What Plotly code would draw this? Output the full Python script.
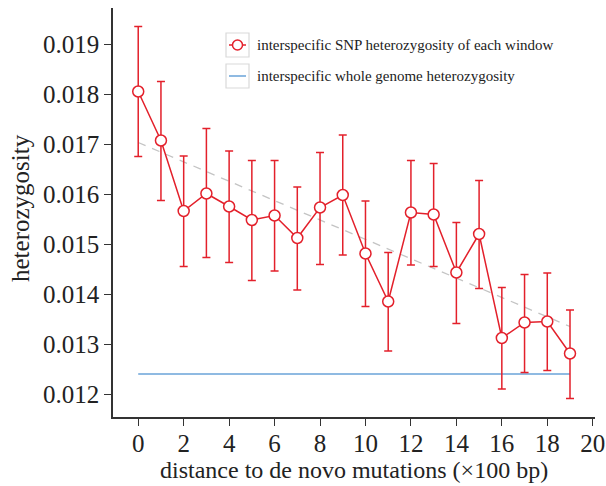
import plotly.graph_objects as go

distance = list(range(20))
het = [0.01805, 0.01707, 0.01566, 0.01601, 0.01575, 0.01548, 0.01557, 0.01512,
       0.01573, 0.01598, 0.01481, 0.01385, 0.01563, 0.01559, 0.01443, 0.01520,
       0.01312, 0.01343, 0.01345, 0.01281]
err_hi = [0.01935, 0.01825, 0.01676, 0.01731, 0.01686, 0.01667, 0.01667, 0.01614,
          0.01683, 0.01718, 0.01586, 0.01483, 0.01667, 0.01661, 0.01543, 0.01627,
          0.01413, 0.01439, 0.01442, 0.01368]
err_lo = [0.01675, 0.01587, 0.01455, 0.01473, 0.01463, 0.01427, 0.01446, 0.01408,
          0.01459, 0.01478, 0.01375, 0.01286, 0.01458, 0.01455, 0.01341, 0.01411,
          0.01210, 0.01243, 0.01247, 0.01191]
genome_x = [0, 19]
genome_het = [0.0124, 0.0124]
trend_x = [0, 19]
trend_y = [0.01703, 0.01335]

legend_labels = ["interspecific SNP heterozygosity of each window",
                 "interspecific whole genome heterozygosity"]
x_title = "distance to de novo mutations (×100 bp)"
y_title = "heterozygosity"

RED = "#e3202b"
BLUE = "#6aa3d8"
FONT = "Liberation Serif, Times New Roman, serif"
TXT = "#222"

W, H = 606, 486
# plot area in pixels: x 113..595, y 8..417
PL, PR, PT, PB = 113, 595, 8, 417
L, R, T, B = PL, W - PR, PT, H - PB
PW, PH = W - L - R, H - T - B


def px(x):
    return (x - PL) / PW


def py(y):
    return (PB - y) / PH


fig = go.Figure()
fig.add_trace(go.Scatter(x=trend_x, y=trend_y, mode="lines",
                         line=dict(color="#c4c4c4", width=1.3, dash="8px,7px"),
                         hoverinfo="skip"))
fig.add_trace(go.Scatter(x=genome_x, y=genome_het, mode="lines",
                         line=dict(color=BLUE, width=1.5), name=legend_labels[1]))
fig.add_trace(go.Scatter(
    x=distance, y=het, mode="lines+markers", name=legend_labels[0],
    line=dict(color=RED, width=1.5),
    marker=dict(symbol="circle", size=11, color="white", line=dict(color=RED, width=1.5)),
    error_y=dict(type="data", symmetric=False,
                 array=[h - v for h, v in zip(err_hi, het)],
                 arrayminus=[v - l for l, v in zip(err_lo, het)],
                 color=RED, thickness=1.5, width=4)))

# manual legend
shapes = []
annotations = []
rows = [(33, 57), (64, 88)]
for i, (y0, y1) in enumerate(rows):
    shapes.append(dict(type="rect", xref="paper", yref="paper",
                       x0=px(226), x1=px(249), y0=py(y1), y1=py(y0),
                       line=dict(color="#d9d9d9", width=1.2), fillcolor="rgba(0,0,0,0)"))
    cy = (y0 + y1) / 2
    shapes.append(dict(type="line", xref="paper", yref="paper",
                       x0=px(229), x1=px(246), y0=py(cy), y1=py(cy),
                       line=dict(color=RED if i == 0 else BLUE, width=1.5)))
    if i == 0:
        r = 5
        cx = 237.5
        shapes.append(dict(type="circle", xref="paper", yref="paper",
                           x0=px(cx - r), x1=px(cx + r), y0=py(cy + r), y1=py(cy - r),
                           line=dict(color=RED, width=1.5), fillcolor="white"))
    annotations.append(dict(xref="paper", yref="paper", x=px(255), y=py(cy),
                            xanchor="left", yanchor="middle", showarrow=False,
                            text=legend_labels[i], font=dict(size=15, color=TXT, family=FONT)))

annotations.append(dict(xref="paper", yref="paper", x=px(354), y=py(470),
                        xanchor="center", yanchor="middle", showarrow=False,
                        text=x_title, font=dict(size=24, color=TXT, family=FONT)))
annotations.append(dict(xref="paper", yref="paper", x=px(20), y=py(208),
                        xanchor="center", yanchor="middle", showarrow=False, textangle=-90,
                        text=y_title, font=dict(size=25, color=TXT, family=FONT)))

fig.update_layout(
    width=W, height=H,
    margin=dict(l=L, r=R, t=T, b=B, pad=0),
    paper_bgcolor="white", plot_bgcolor="white",
    showlegend=False,
    font=dict(family=FONT, color=TXT),
    shapes=shapes, annotations=annotations,
    xaxis=dict(range=[-1.11, 20.1], tickvals=list(range(0, 21, 2)), automargin=False,
               showgrid=False, zeroline=False, showline=True, linecolor="#333", linewidth=1.5,
               ticks="outside", ticklen=7, tickwidth=1.3, tickcolor="#333",
               ticklabelstandoff=-4,
               tickfont=dict(size=25, family=FONT, color=TXT)),
    yaxis=dict(range=[0.01154, 0.01972], automargin=False,
               tickvals=[0.012, 0.013, 0.014, 0.015, 0.016, 0.017, 0.018, 0.019],
               tickformat=".3f",
               showgrid=False, zeroline=False, showline=True, linecolor="#333", linewidth=1.5,
               ticks="outside", ticklen=7, tickwidth=1.3, tickcolor="#333",
               tickfont=dict(size=25, family=FONT, color=TXT)),
)

fig.write_html("out.html", config={"displayModeBar": False},
               post_script="document.body.style.margin='0';document.body.style.overflow='hidden';")
